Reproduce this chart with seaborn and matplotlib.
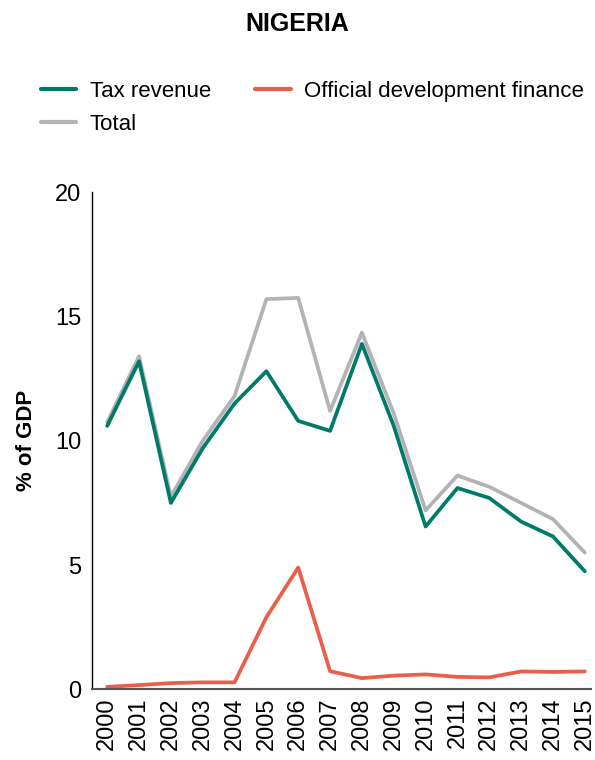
import pandas as pd
import matplotlib.pyplot as plt
import seaborn as sns

years = list(range(2000, 2016))
tax_revenue = [10.6, 13.2, 7.5, 9.7, 11.5, 12.8, 10.8, 10.4, 13.9, 10.6, 6.55, 8.1, 7.7, 6.75, 6.15, 4.75]
total = [10.75, 13.4, 7.75, 10.0, 11.8, 15.7, 15.75, 11.2, 14.35, 11.1, 7.2, 8.6, 8.15, 7.5, 6.85, 5.5]
odf = [0.1, 0.17, 0.25, 0.28, 0.28, 2.9, 4.9, 0.73, 0.45, 0.55, 0.6, 0.5, 0.48, 0.72, 0.7, 0.72]

df = pd.DataFrame({
    'year': years * 3,
    'value': tax_revenue + odf + total,
    'series': ['Tax revenue'] * 16 + ['Official development finance'] * 16 + ['Total'] * 16,
})
# draw order: total at back
order = ['Total', 'Tax revenue', 'Official development finance']
palette = {'Tax revenue': '#007a69', 'Official development finance': '#e8604c', 'Total': '#b3b3b3'}

sns.set_style('white')
plt.rcParams['font.family'] = ['Liberation Sans', 'DejaVu Sans']
plt.rcParams['text.color'] = 'black'
plt.rcParams['xtick.color'] = 'black'
plt.rcParams['ytick.color'] = 'black'
plt.rcParams['axes.labelcolor'] = 'black'

fig = plt.figure(figsize=(5.95, 7.6), dpi=100)
ax = fig.add_axes([0.155, 0.093, 0.838, 0.654])
sns.lineplot(data=df, x='year', y='value', hue='series', hue_order=order,
             palette=palette, linewidth=2.7, ax=ax, legend=False)

ax.set_xlim(1999.53, 2015.19)
ax.set_ylim(0, 20)
ax.set_yticks([0, 5, 10, 15, 20])
ax.set_xticks(years)
ax.set_xticklabels([str(y) for y in years], rotation=90, fontsize=17)
ax.tick_params(axis='y', labelsize=17, length=0, pad=8)
ax.tick_params(axis='x', length=0, pad=6)
ax.set_xlabel('')
ax.set_ylabel('% of GDP', fontsize=16, fontweight='bold', labelpad=13)
for s in ['top', 'right']:
    ax.spines[s].set_visible(False)
ax.spines['left'].set_color('black')
ax.spines['left'].set_linewidth(1.0)
ax.spines['bottom'].set_color('#555555')
ax.spines['bottom'].set_linewidth(1.5)

fig.text(0.5, 0.968, 'NIGERIA', ha='center', va='center', fontsize=18, fontweight='bold')

handles = [plt.Line2D([], [], color=palette[k], linewidth=3) for k in ['Tax revenue', 'Total', 'Official development finance']]
labels = ['Tax revenue', 'Total', 'Official development finance']
fig.legend(handles, labels, ncol=2, loc='upper left', bbox_to_anchor=(0.035, 0.92),
           frameon=False, fontsize=16, handlelength=1.6, handletextpad=0.6,
           columnspacing=2.0, labelspacing=0.55)

fig.savefig('out.png', dpi=100)
